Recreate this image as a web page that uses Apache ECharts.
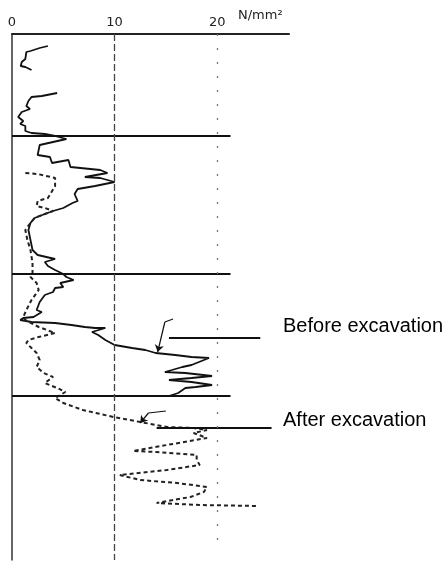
<!DOCTYPE html>
<html>
<head>
<meta charset="utf-8">
<script src="https://cdn.jsdelivr.net/npm/echarts@6/dist/echarts.min.js"></script>
<style>
  html, body { margin: 0; padding: 0; background: #fff; }
  #chart { width: 444px; height: 562px; }
</style>
</head>
<body>
<div id="chart"></div>
<script>
// stress (N/mm2), depth in arbitrary units from the top line
var beforeStress = [3.5, 2.7, 1.8, 1.4, 1.3, 0.95, 0.85, 1.3, 1.9, null,
  4.4, 2.9, 1.9, 1.6, 1.4, 1.75, 0.95, 0.6, 1.1, 0.8, 1.3, 1.3, 1.9, 3.2, 4.2, 5.3,
  2.7, 2.5, 3.7, 3.9, 5.5, 5.7, 8.6, 9.3, 7.1, 8.6, 10.0, 8.1, 6.4, 6.1, 6.4, 5.9, 5.0, 4.0, 3.2, 2.2, 1.8, 1.6, 1.8, 2.0, 2.5, 4.2, 3.2, 3.5, 4.2, 5.0,
  5.3, 6.0, 4.7, 5.0, 4.2, 4.0, 3.2, 2.7, 2.4, 2.9, 2.1, 1.1, 0.8, 1.9, 4.2, 5.8, 7.1, 8.1, 9.1, 7.8, 8.4, 9.1, 10.0, 11.7, 13.0, 14.0, 15.9, 17.5, 19.2,
  17.5, 16.6, 15.6, 14.9, 16.9, 19.5, 17.5, 15.3, 17.5, 19.5, 17.9, 16.9, 16.2, 15.3]
var beforeDepth = [12, 14, 17, 18, 25, 28, 32, 33, 36, null,
  59, 62, 63, 67, 72, 75, 78, 83, 87, 90, 92, 97, 99, 100, 102, 105,
  111, 121, 123, 129, 126, 133, 136, 139, 143, 144, 148, 152, 155, 160, 167, 169, 174, 177, 180, 184, 189, 196, 206, 216, 221, 225, 228, 232, 236, 240,
  243, 246, 249, 253, 254, 258, 261, 268, 276, 278, 283, 284, 286, 288, 289, 291, 293, 294, 294, 298, 301, 306, 311, 314, 316, 319, 321, 323, 324,
  331, 333, 336, 338, 339, 342, 344, 346, 348, 351, 353, 354, 359, 362]

var afterStress = [1.3, 2.5, 4.2, 4.2, 3.5, 2.5, 2.4, 3.2, 4.0, 3.2, 2.2, 1.8, 1.3, 1.5, 1.8, 2.0, 2.0,
  1.8, 2.4, 2.6, 1.9, 1.4, 1.1, 1.3, 2.6, 4.2, 2.6, 1.6, 1.4, 1.9, 2.4, 2.7, 2.4, 3.1, 4.0, 3.2, 4.4, 5.2, 4.2,
  5.0, 6.9, 9.9, 12.5, 15.1, 17.7, 19.0, 17.7, 19.0, 15.1, 11.8, 14.1, 18.0, 18.0, 18.3, 15.1, 10.5, 12.5, 16.1, 19.0, 18.7, 17.4, 15.7, 14.1, 18.3, 23.9]
var afterDepth = [139, 140, 144, 152, 164, 167, 172, 174, 177, 180, 184, 189, 196, 206, 216, 229, 239,
  243, 249, 256, 266, 276, 283, 286, 293, 299, 303, 306, 309, 314, 319, 326, 333, 339, 343, 349, 354, 358, 364,
  369, 376, 383, 388, 393, 394, 396, 399, 404, 411, 417, 418, 421, 426, 431, 436, 441, 446, 449, 453, 458, 463, 466, 469, 471, 472]

var layerDepths = [102, 240, 362]
var layerLineEnd = 21.3
var tickLabels = ['0', '10', '20']
var unitLabel = 'N/mm²'
var legendNames = ['Before excavation', 'After excavation']
// leader lines for the two notes: [from stress, to stress, depth]
var leaders = [[15.3, 24.2, 304], [14.1, 25.3, 394]]
// small hand-drawn arrows: hook start, bend, tip
var arrows = [[[15.7, 285], [14.9, 288], [14.2, 318]], [[15.0, 377], [13.3, 379], [12.5, 389]]]

var depthMax = 526

function pairs (xs, ys) {
  var out = []
  for (var i = 0; i < xs.length; i++) {
    if (xs[i] === null || ys[i] === null) {
      out.push([null, null])
    } else {
      out.push([xs[i], ys[i]])
    }
  }
  return out
}

var marks = []
layerDepths.forEach(function (d) {
  marks.push([{coord: [0, d]}, {coord: [layerLineEnd, d]}])
})
leaders.forEach(function (l) {
  marks.push([{coord: [l[0], l[2]]}, {coord: [l[1], l[2]]}])
})
arrows.forEach(function (a) {
  marks.push([{coord: a[0], lineStyle: {width: 1.2}}, {coord: a[1]}])
  marks.push([{coord: a[1], lineStyle: {width: 1.2}}, {coord: a[2], symbol: 'arrow', symbolSize: 7}])
})
marks.push([{coord: [10, 0], lineStyle: {type: [7, 3], width: 1.3, color: '#444'}}, {coord: [10, depthMax]}])
marks.push([{coord: [20, 0], lineStyle: {type: [2, 12], width: 1.3, color: '#777'}}, {coord: [20, 508]}])

var chart = echarts.init(document.getElementById('chart'))
var option = {
  animation: false,
  backgroundColor: '#fff',
  grid: {left: 12, right: 155, top: 34, bottom: 2},
  xAxis: {
    type: 'value',
    position: 'top',
    min: 0,
    max: 27,
    interval: 10,
    axisLine: {show: true, lineStyle: {color: '#222', width: 2}},
    axisTick: {show: false},
    splitLine: {show: false},
    axisLabel: {
      showMaxLabel: false,
      margin: 5,
      fontSize: 13,
      color: '#222',
      fontFamily: 'DejaVu Sans',
      formatter: function (v) {
        var i = Math.round(v / 10)
        return tickLabels[i] || ''
      }
    }
  },
  yAxis: {
    type: 'value',
    inverse: true,
    min: 0,
    max: depthMax,
    axisLine: {show: true, lineStyle: {color: '#333', width: 1.5}},
    axisTick: {show: false},
    axisLabel: {show: false},
    splitLine: {show: false}
  },
  series: [
    {
      name: legendNames[0],
      type: 'line',
      data: pairs(beforeStress, beforeDepth),
      showSymbol: false,
      connectNulls: false,
      lineStyle: {color: '#111', width: 1.8},
      markLine: {
        silent: true,
        symbol: ['none', 'none'],
        label: {show: false},
        lineStyle: {color: '#111', width: 2, type: 'solid'},
        data: marks
      }
    },
    {
      name: legendNames[1],
      type: 'line',
      data: pairs(afterStress, afterDepth),
      showSymbol: false,
      lineStyle: {color: '#222', width: 2, type: [4, 3]}
    }
  ],
  graphic: [
    {type: 'text', left: 238, top: 9, style: {text: unitLabel, fontSize: 13, fill: '#222', fontFamily: 'DejaVu Sans'}},
    {type: 'text', x: 283, y: 326, style: {text: legendNames[0], fontSize: 20, fill: '#000', fontFamily: 'Liberation Sans', verticalAlign: 'middle'}},
    {type: 'text', x: 283, y: 420, style: {text: legendNames[1], fontSize: 20, fill: '#000', fontFamily: 'Liberation Sans', verticalAlign: 'middle'}}
  ]
}
chart.setOption(option)
</script>
</body>
</html>
